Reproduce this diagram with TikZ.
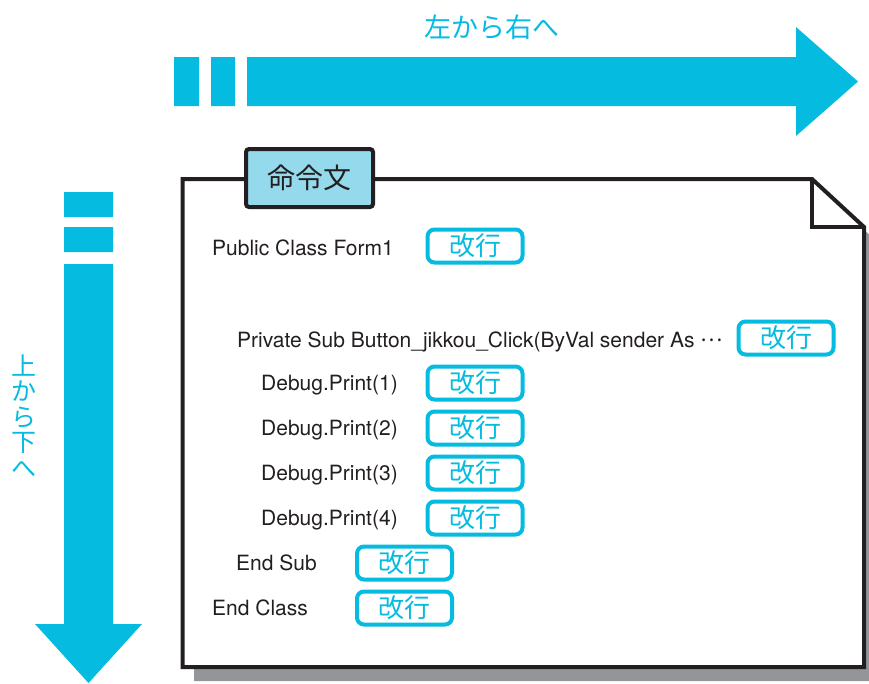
\documentclass[tikz,border=0pt]{standalone}
\usepackage{fontspec}
\setmainfont{TeX Gyre Heros}
\newfontfamily\jpfont{Noto Sans CJK JP}
\definecolor{flowblue}{HTML}{05BCE0}
\definecolor{tabblue}{HTML}{95DAEC}
\definecolor{shadowgray}{HTML}{939598}
\definecolor{ink}{HTML}{231F20}
\tikzset{
  codeline/.style={anchor=base west, inner sep=0pt, text=ink, font=\fontsize{21}{21}\selectfont},
  kaigyo/.style={draw=flowblue, line width=4pt, fill=white, rounded corners=7pt,
    minimum width=95pt, minimum height=33pt, inner sep=0pt, text=flowblue,
    font=\jpfont\fontsize{26}{26}\selectfont},
  flowlabel/.style={inner sep=0pt, text=flowblue, align=center},
}
\begin{document}
\begin{tikzpicture}[x=1pt, y=-1pt]
        \useasboundingbox (0,0) rectangle (869,683);
        % arrows
        \fill[flowblue] (174,57) rectangle (199,106) (211,57) rectangle (235,106);
        \fill[flowblue] (247,57) -- (796,57) -- (796,27) -- (858,81.5) -- (796,136) -- (796,106) -- (247,106) -- cycle;
        \fill[flowblue] (64,192) rectangle (113,217) (64,227) rectangle (113,252);
        \fill[flowblue] (64,264) -- (64,624) -- (35,624) -- (88.5,683) -- (142,624) -- (113,624) -- (113,264) -- cycle;
        \node[flowlabel, font=\jpfont\fontsize{27}{27}\selectfont] (lr) at (492,27) {左から右へ};
        \node[flowlabel, font=\jpfont\fontsize{25}{25.6}\selectfont] (tb) at (24,416) {上\\か\\ら\\下\\へ};
        % page
        \fill[shadowgray] (194,192) -- (824,192) -- (876,241) -- (876,681) -- (194,681) -- cycle;
        \draw[ink, line width=4pt, fill=white, line join=miter] (182.5,179) -- (812,179) -- (864,227) -- (864,667) -- (182.5,667) -- cycle;
        \draw[ink, line width=4pt, line join=miter] (812,179) -- (812,227) -- (864,227);
        \node[draw=ink, line width=4pt, fill=tabblue, rounded corners=3pt, minimum width=127pt, minimum height=58pt,
          inner sep=0pt, text=ink, font=\jpfont\fontsize{28}{28}\selectfont] (tab) at (309.5,178) {命令文};
        % code
        \node[codeline] (l1) at (212,255) {Public Class Form1};
        \node[codeline] (l2) at (237,347) {Private Sub Button\_jikkou\_Click(ByVal sender As \raisebox{6pt}{\jpfont …}};
        \node[codeline] (l3) at (261,390) {Debug.Print(1)};
        \node[codeline] (l4) at (261,435) {Debug.Print(2)};
        \node[codeline] (l5) at (261,480) {Debug.Print(3)};
        \node[codeline] (l6) at (261,525) {Debug.Print(4)};
        \node[codeline] (l7) at (236,570) {End Sub};
        \node[codeline] (l8) at (212,615) {End Class};
        % line breaks
        \node[kaigyo] (k1) at (475,246) {改行};
        \node[kaigyo] (k2) at (786,338) {改行};
        \node[kaigyo] (k3) at (475,383) {改行};
        \node[kaigyo] (k4) at (475,428) {改行};
        \node[kaigyo] (k5) at (475,473) {改行};
        \node[kaigyo] (k6) at (475,518) {改行};
        \node[kaigyo] (k7) at (404.5,563) {改行};
        \node[kaigyo] (k8) at (404.5,608) {改行};
      \end{tikzpicture}
\end{document}
